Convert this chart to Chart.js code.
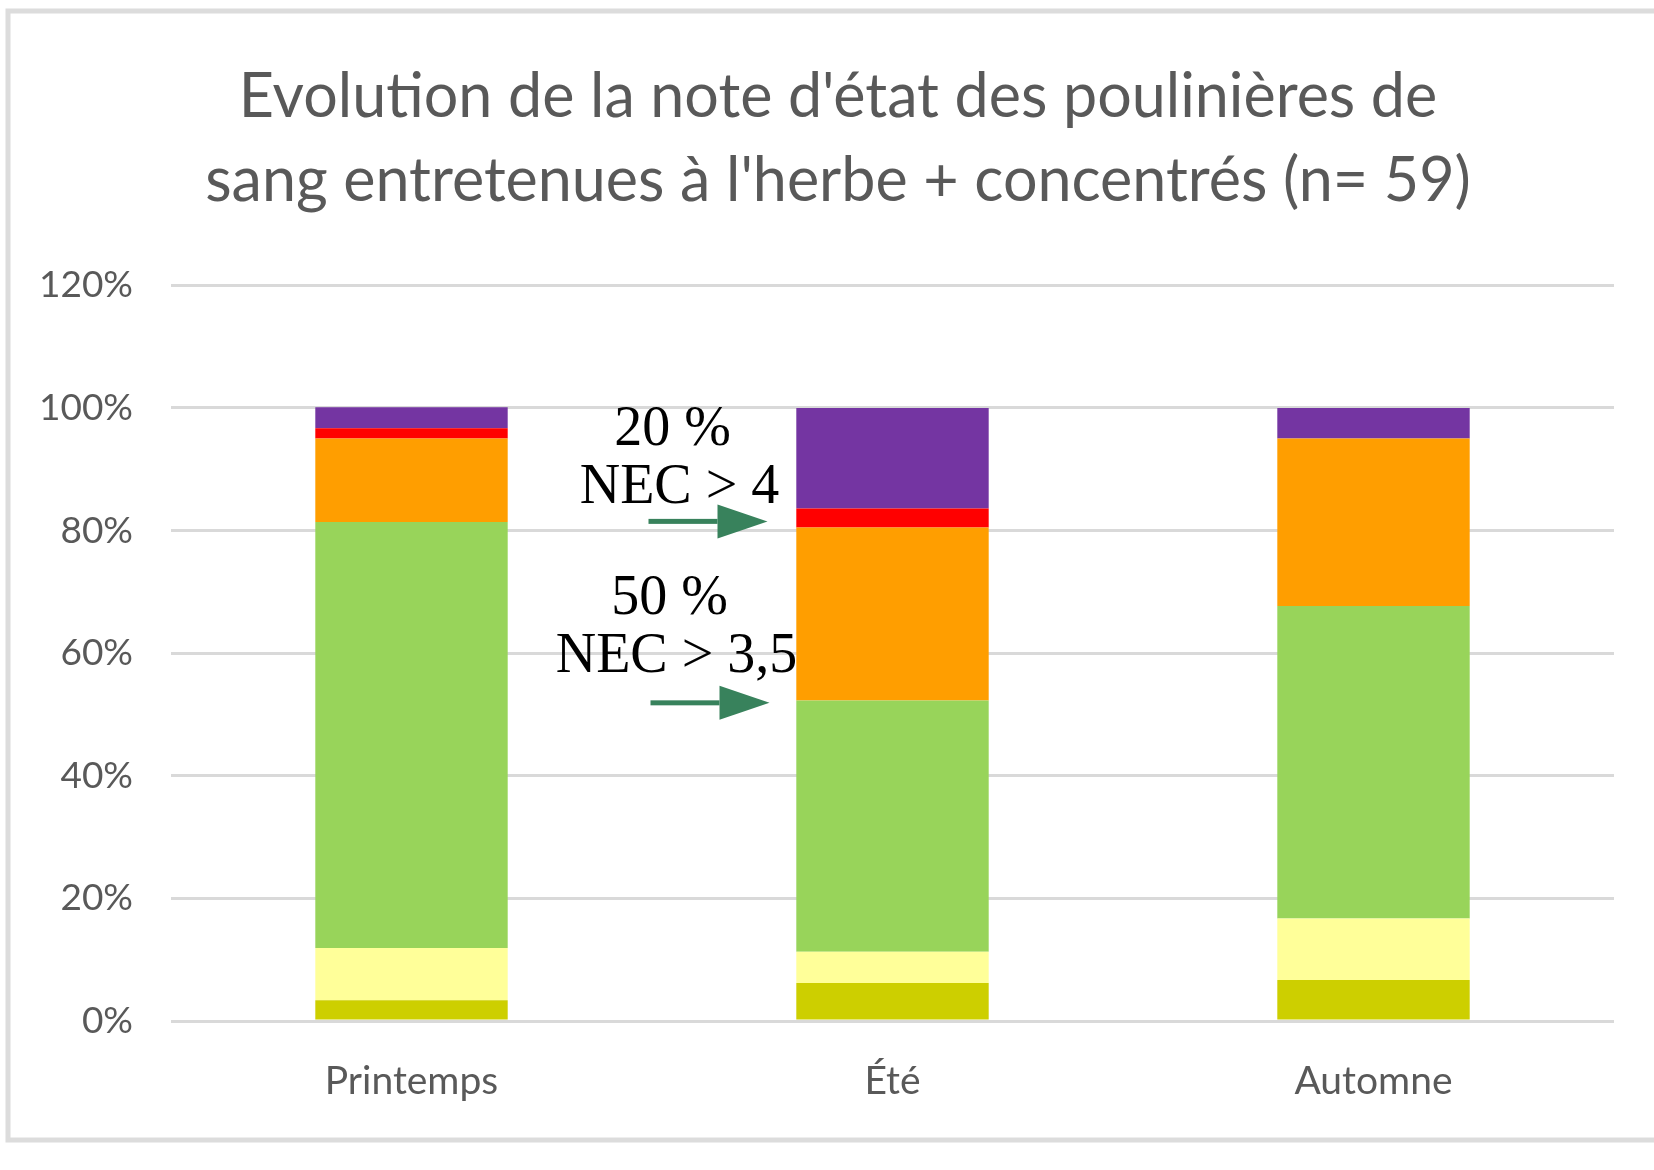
<!DOCTYPE html>
<html>
<head>
<meta charset="utf-8">
<script src="https://cdn.jsdelivr.net/npm/chart.js@4.4.0/dist/chart.umd.min.js"></script>
<style>
  html, body { margin: 0; padding: 0; background: #fff; }
  canvas { display: block; }
</style>
</head>
<body>
<canvas id="myChart" width="1654" height="1170"></canvas>
<script>
// donnees (% de juments par classe de NEC)
const saisons = ['Printemps', 'Été', 'Automne'];
const nec25 = [3.4, 6.2, 6.7];
const nec3 = [8.5, 5.1, 10.0];
const nec35 = [69.5, 41.0, 51.0];
const nec4 = [13.6, 28.2, 27.3];
const nec45 = [1.7, 3.1, 0];
const nec5 = [3.4, 16.4, 5.0];
const yTicks = [0, 20, 40, 60, 80, 100, 120];

const gris = '#595959';

// cadre gris autour du graphique
const cadre = {
  id: 'cadre',
  afterLayout(chart) {
    // titre un peu decale vers la droite comme dans Excel
    if (chart.titleBlock) chart.titleBlock.left += 42;
  },
  beforeDraw(chart) {
    const c = chart.ctx;
    c.save();
    c.fillStyle = '#fff';
    c.fillRect(0, 0, chart.width, chart.height);
    c.strokeStyle = '#dcdcdc';
    c.lineWidth = 5;
    c.strokeRect(8, 11, chart.width + 20, 1129);
    c.restore();
  }
};

// textes + fleches ajoutes a la main sur le graphique
const notes = {
  id: 'notes',
  afterDatasetsDraw(chart) {
    const c = chart.ctx;
    const x = chart.scales.x, y = chart.scales.y;
    const cx = x.getPixelForValue(1);
    c.save();
    c.fillStyle = '#000';
    c.font = '56px "Liberation Serif"';
    c.textAlign = 'center';
    c.textBaseline = 'middle';
    c.fillText('20 %', cx - 220, y.getPixelForValue(96.4));
    c.fillText('NEC > 4', cx - 213, y.getPixelForValue(86.9));
    c.fillText('50 %', cx - 223, y.getPixelForValue(68.8));
    c.fillText('NEC > 3,5', cx - 216, y.getPixelForValue(59.4));

    function fleche(x0, x1, yy) {
      c.fillStyle = '#38825C';
      c.fillRect(x0, yy - 2.5, (x1 - 50) - x0, 5);
      c.beginPath();
      c.moveTo(x1 - 50, yy - 17);
      c.lineTo(x1, yy);
      c.lineTo(x1 - 50, yy + 17);
      c.closePath();
      c.fill();
    }
    fleche(cx - 244, cx - 125, y.getPixelForValue(81.5));
    fleche(cx - 242, cx - 123, y.getPixelForValue(51.9));
    c.restore();
  }
};

const ctx = document.getElementById('myChart');

new Chart(ctx, {
  type: 'bar',
  data: {
    labels: saisons,
    datasets: [
      { label: 'NEC 2,5', data: nec25, backgroundColor: '#CDCF00' },
      { label: 'NEC 3', data: nec3, backgroundColor: '#FFFF99' },
      { label: 'NEC 3,5', data: nec35, backgroundColor: '#98D45A' },
      { label: 'NEC 4', data: nec4, backgroundColor: '#FF9E00' },
      { label: 'NEC 4,5', data: nec45, backgroundColor: '#FF0000' },
      { label: 'NEC 5', data: nec5, backgroundColor: '#7435A2' }
    ]
  },
  plugins: [cadre, notes],
  options: {
    responsive: false,
    animation: false,
    categoryPercentage: 1,
    barPercentage: 0.4,
    layout: { padding: { top: 0, left: 20, right: 40, bottom: 54 } },
    plugins: {
      legend: { display: false },
      tooltip: { enabled: false },
      title: {
        display: true,
        text: ["Evolution de la note d'état des poulinières de", "sang entretenues à l'herbe + concentrés (n= 59)"],
        color: gris,
        font: { family: 'Lato', size: 61, weight: 'normal', lineHeight: 1.38 },
        padding: { top: 55, bottom: 62 }
      }
    },
    scales: {
      x: {
        stacked: true,
        grid: { display: false },
        border: { display: false },
        ticks: { color: gris, font: { family: 'Lato', size: 39 }, padding: 29 },
        afterFit(s) { s.height = 95; }
      },
      y: {
        stacked: true,
        min: 0,
        max: 120,
        afterBuildTicks(s) { s.ticks = yTicks.map(v => ({ value: v })); },
        grid: { color: '#d9d9d9', lineWidth: 3, drawTicks: false },
        border: { display: false },
        ticks: {
          color: gris,
          font: { family: 'Lato', size: 37 },
          padding: 38,
          callback: v => v + '%'
        },
        afterFit(s) { s.width = 151; }
      }
    }
  }
});
</script>
</body>
</html>
